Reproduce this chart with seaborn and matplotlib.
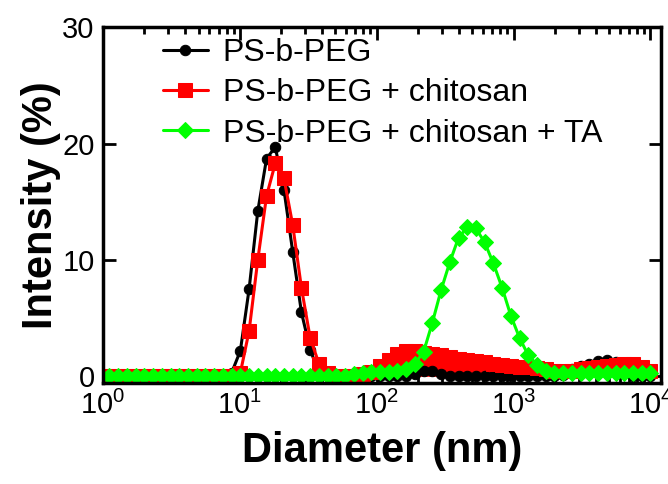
import numpy as np
import pandas as pd
import matplotlib
matplotlib.use("Agg")
import matplotlib.pyplot as plt
import seaborn as sns

# size bins (nm)
diameter = [0.9649, 1.117, 1.294, 1.499, 1.736, 2.010, 2.328, 2.696, 3.122, 3.615,
            4.187, 4.849, 5.615, 6.503, 7.531, 8.721, 10.10, 11.70, 13.54, 15.69,
            18.17, 21.04, 24.36, 28.21, 32.67, 37.84, 43.82, 50.75, 58.77, 68.06,
            78.82, 91.28, 105.7, 122.4, 141.8, 164.2, 190.1, 220.2, 255.0, 295.3,
            342.0, 396.1, 458.7, 531.2, 615.1, 712.4, 825.0, 955.4, 1106, 1281,
            1484, 1718, 1990, 2305, 2669, 3091, 3580, 4145, 4801, 5560,
            6439, 7456, 8635, 10000]

# intensity (%)
ps_peg = [0, 0, 0, 0, 0, 0, 0, 0, 0, 0,
          0, 0, 0, 0, 0, 0.3, 2.2, 7.5, 14.2, 18.7,
          19.7, 16.0, 10.7, 5.5, 2.3, 0.3, 0, 0, 0, 0,
          0, 0, 0, 0, 0, 0, 0.2, 0.5, 0.5, 0.2,
          0, 0, 0, 0, 0, 0, 0, 0, 0, 0,
          0, 0, 0, 0.1, 0.6, 0.9, 1.1, 1.3, 1.4, 1.2,
          0.4, 0, 0, 0]

ps_peg_chitosan = [0, 0, 0, 0, 0, 0, 0, 0, 0, 0,
                   0, 0, 0, 0, 0, 0, 0.3, 3.9, 10.0, 15.5,
                   18.3, 17.0, 13.0, 7.6, 3.3, 1.1, 0.3, 0, 0, 0,
                   0.2, 0.4, 0.9, 1.4, 1.9, 2.2, 2.2, 2.0, 1.9, 1.8,
                   1.7, 1.5, 1.4, 1.3, 1.2, 1.1, 1.0, 0.9, 0.8, 0.8,
                   0.7, 0.6, 0.5, 0.5, 0.5, 0.6, 0.7, 0.8, 0.9, 1.0,
                   1.1, 1.1, 0.8, 0.5]

ps_peg_chitosan_ta = [0, 0, 0, 0, 0, 0, 0, 0, 0, 0,
                      0, 0, 0, 0, 0, 0, 0, 0, 0, 0,
                      0, 0, 0, 0, 0, 0, 0, 0, 0, 0.2,
                      0.3, 0.4, 0.4, 0.4, 0.5, 0.6, 1.1, 2.1, 4.6, 7.4,
                      9.8, 11.9, 12.8, 12.7, 11.5, 9.7, 7.6, 5.2, 3.3, 1.8,
                      1.0, 0.5, 0.3, 0.3, 0.3, 0.3, 0.3, 0.3, 0.3, 0.3,
                      0.3, 0.3, 0.3, 0.3]

labels = ["PS-b-PEG", "PS-b-PEG + chitosan", "PS-b-PEG + chitosan + TA"]
colors = ["black", "#ff0000", "#00ff00"]
markers = ["o", "s", "D"]
msizes = [7.5, 9.5, 8]

sns.set_theme(style="ticks")
plt.rcParams["font.family"] = ["Liberation Sans", "DejaVu Sans"]
plt.rcParams["mathtext.fontset"] = "custom"
plt.rcParams["mathtext.rm"] = "Liberation Sans"
plt.rcParams["mathtext.it"] = "Liberation Sans:italic"
plt.rcParams["mathtext.bf"] = "Liberation Sans:bold"
plt.rcParams["text.color"] = "black"
plt.rcParams["axes.labelcolor"] = "black"

fig = plt.figure(figsize=(6.68, 4.84), dpi=100)
ax = fig.add_axes([0.154, 0.209, 0.836, 0.735])

df = pd.DataFrame({"diameter": diameter, labels[0]: ps_peg,
                   labels[1]: ps_peg_chitosan, labels[2]: ps_peg_chitosan_ta})

for lab, c, m, ms in zip(labels, colors, markers, msizes):
    sns.lineplot(data=df, x="diameter", y=lab, ax=ax, color=c, marker=m,
                 markersize=ms, markeredgecolor=c, linewidth=2.2, label=lab)
    if lab == labels[1]:
        # broad secondary population looks solid in the original
        d = np.array(diameter)
        ax.fill_between(d, ps_peg_chitosan, where=d >= 70, color=c,
                        linewidth=0, interpolate=True)

ax.set_xscale("log")
ax.set_xlim(1, 1.2e4)
ax.set_ylim(-0.56, 30)
ax.set_yticks([0, 10, 20, 30])

for s in ax.spines.values():
    s.set_linewidth(2.5)
    s.set_color("black")
ax.tick_params(which="both", direction="in", top=True, right=True,
               width=2, colors="black", labelsize=21, pad=6)
ax.tick_params(which="major", length=9)
ax.tick_params(which="minor", length=5)
ax.tick_params(axis="y", which="minor", left=False, right=False)

ax.set_xlabel("Diameter (nm)", fontsize=30, fontweight="bold", labelpad=8)
ax.set_ylabel("Intensity (%)", fontsize=30, fontweight="bold", labelpad=1)

leg = ax.legend(loc="upper left", bbox_to_anchor=(0.085, 1.005), frameon=False,
                fontsize=23, handlelength=1.4, handletextpad=0.47,
                labelspacing=0.32, borderaxespad=0)

fig.savefig("out.png", dpi=100)
